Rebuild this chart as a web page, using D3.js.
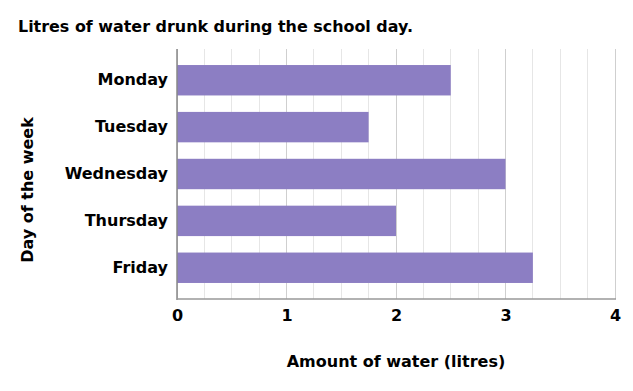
<!DOCTYPE html>
<html><head><meta charset="utf-8">
<script src="https://cdn.jsdelivr.net/npm/d3@7"></script>
<style>body{margin:0;background:#fff}</style>
</head><body>
<svg id="c" width="633" height="391"></svg>
<script>
const categories = ["Monday","Tuesday","Wednesday","Thursday","Friday"];
const values = [2.5, 1.75, 3, 2, 3.25];
const tickLabels = [0,1,2,3,4];
const minorTicks = [0,0.25,0.5,0.75,1,1.25,1.5,1.75,2,2.25,2.5,2.75,3,3.25,3.5,3.75,4];

(function(){
const svg = d3.select("#c");
const font = "DejaVu Sans, Verdana, sans-serif";
const pl = 177, pr = 615, pt = 49, pb = 299;
const x = d3.scaleLinear().domain([0,4]).range([pl,pr]);
const y = d3.scaleBand().domain(categories).range([pt,pb]).paddingInner(0.351).paddingOuter(0.342);

svg.append("text").attr("x",18).attr("y",32).text("Litres of water drunk during the school day.")
  .attr("font-family",font).attr("font-weight","bold").attr("font-size",15).attr("fill","#000")
  .attr("textLength",395).attr("lengthAdjust","spacingAndGlyphs");

svg.append("g").selectAll("line").data(minorTicks).join("line")
  .attr("x1",d=>x(d)).attr("x2",d=>x(d)).attr("y1",pt).attr("y2",pb)
  .attr("stroke",d=>Number.isInteger(d)?"#cfcfcf":"#e6e6e6").attr("stroke-width",1)
  .attr("shape-rendering","crispEdges");

svg.append("g").selectAll("rect").data(categories).join("rect")
  .attr("x",x(0)).attr("y",d=>y(d)).attr("width",(d,i)=>x(values[i])-x(0)).attr("height",y.bandwidth())
  .attr("fill","#8c7ec3");

svg.append("line").attr("x1",pl).attr("x2",pl).attr("y1",pt).attr("y2",pb+1)
  .attr("stroke","#888").attr("stroke-width",1.5);
svg.append("line").attr("x1",pl).attr("x2",pr+1).attr("y1",pb).attr("y2",pb)
  .attr("stroke","#999").attr("stroke-width",1.5);

const xa = svg.append("g").attr("transform",`translate(0,${pb})`)
  .call(d3.axisBottom(x).tickValues(tickLabels).tickSize(0).tickPadding(11).tickFormat(d3.format("d")));
xa.select(".domain").remove();
xa.selectAll("text").attr("font-family",font).attr("font-weight","bold").attr("font-size",16).attr("fill","#000");

const ya = svg.append("g").attr("transform",`translate(${pl},0)`)
  .call(d3.axisLeft(y).tickSize(0).tickPadding(9));
ya.select(".domain").remove();
ya.selectAll("text").attr("font-family",font).attr("font-weight","bold").attr("font-size",16).attr("fill","#000");

svg.append("text").attr("x",396).attr("y",367).attr("text-anchor","middle").text("Amount of water (litres)")
  .attr("font-family",font).attr("font-weight","bold").attr("font-size",16).attr("fill","#000");
svg.append("text").attr("transform","translate(33,190) rotate(-90)").attr("text-anchor","middle").text("Day of the week")
  .attr("font-family",font).attr("font-weight","bold").attr("font-size",16).attr("fill","#000");
})();
</script>
</body></html>
